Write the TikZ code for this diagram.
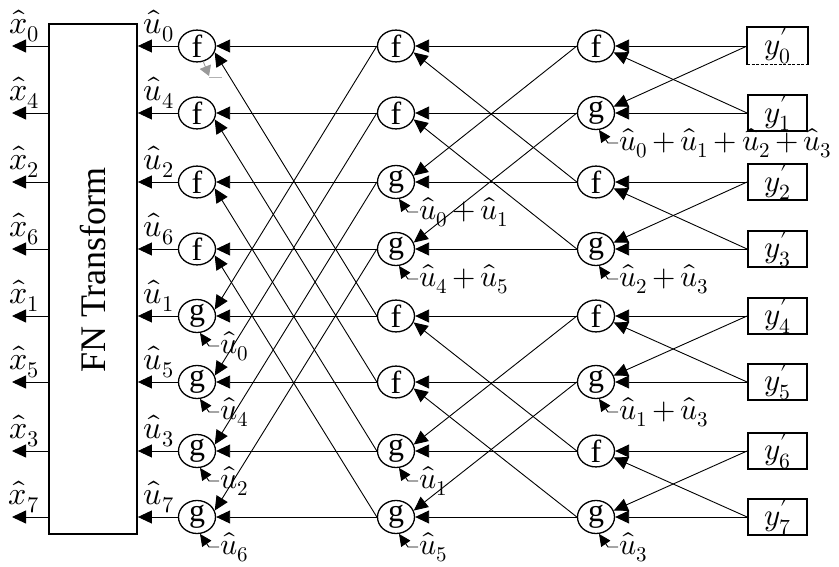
\documentclass[tikz,border=0pt]{standalone}
\usepackage{unicode-math}
\setmainfont{Liberation Serif}
\setmathfont{Latin Modern Math}
\usetikzlibrary{arrows.meta,shapes.geometric}

% feedback label below a g node, with its short hooked arrow
\newcommand\fbk[2]{%
  \node[fbl,anchor=west] (#1l) at ([shift={(22,30)}]#1.center) {$\medmuskip=3mu #2$};
  \draw[fb] (#1l.west) -- ++(-10,0) -- (#1.-80);
}
% received value y'_k with a lowered prime
\newcommand\yp[1]{$y^{\raisebox{-5pt}{$\scriptstyle\prime$}}_{#1}$}

\tikzset{
  fg/.style={ellipse, draw, line width=1.3pt, minimum width=37pt, minimum height=31pt,
             inner sep=0pt, font=\fontsize{32}{32}\selectfont},
  ybox/.style={rectangle, draw, line width=1.8pt, minimum width=59pt, minimum height=32pt,
             inner sep=0pt, font=\fontsize{31}{31}\selectfont},
  conn/.style={line width=0.9pt, -{Triangle[length=14pt,width=13pt]}},
  fb/.style={line width=0.9pt, -{Triangle[length=12pt,width=11pt]}},
  lab/.style={inner sep=0pt, font=\fontsize{32}{32}\selectfont},
  fbl/.style={inner sep=1pt, font=\fontsize{30}{30}\selectfont},
}

\begin{document}
\begin{tikzpicture}[x=1pt,y=-1pt]
\useasboundingbox (0,0) rectangle (839,567);

% FN transform block
\node[draw, line width=1.8pt, minimum width=88pt, minimum height=510pt, inner sep=0pt]
  (fn) at (93,279) {};
\node[rotate=90, inner sep=0pt, font=\fontsize{36}{36}\selectfont] (fnt) at (93,270) {FN Transform};

% nodes of the three stages and the received values
\foreach \i/\y/\a/\b/\c/\k in {0/46/f/f/f/0, 1/113/f/f/g/4, 2/182/f/g/f/2, 3/249/f/g/g/6,
                              4/316/g/f/f/1, 5/382/g/f/g/5, 6/451/g/g/f/3, 7/517/g/g/g/7} {
  \node[fg] (a\i) at (197,\y) {\a};
  \node[fg] (b\i) at (396,\y) {\b};
  \node[fg] (c\i) at (596,\y) {\c};
  \ifnum\i=0
    \node[ybox, draw=none] (y\i) at (777.5,\y) {\yp{\i}};
  \else
    \node[ybox] (y\i) at (777.5,\y) {\yp{\i}};
  \fi
  % straight wires
  \draw[conn] (y\i.west) -- (c\i.east);
  \draw[conn] (c\i.west) -- (b\i.east);
  \draw[conn] (b\i.west) -- (a\i.east);
  \draw[conn] (a\i.west) -- (a\i.west -| fn.east);
  \coordinate (xo\i) at (12,\y);
  \draw[conn] (xo\i -| fn.west) -- (xo\i);
  \node[lab] (ul\i) at (159,\y-20) {$\widehat{u}_{\k}$};
  \node[lab] (xl\i) at (24,\y-20) {$\widehat{x}_{\k}$};
}

% first box: dashed lower edge
\draw[line width=1.8pt] (y0.south west) -- (y0.north west) -- (y0.north east) -- (y0.south east);
\draw[line width=1pt, dash pattern=on 3pt off 1.5pt] (y0.south west) -- (y0.south east);

% crossing wires
\foreach \p/\q in {0/1,2/3,4/5,6/7} {
  \draw[conn] (y\q.west) -- (c\p.-20);
  \draw[conn] (y\p.west) -- (c\q.20);
}
\foreach \p/\q in {0/2,1/3,4/6,5/7} {
  \draw[conn] (c\q.west) -- (b\p.-20);
  \draw[conn] (c\p.west) -- (b\q.20);
}
\foreach \p/\q in {0/4,1/5,2/6,3/7} {
  \draw[conn] (b\q.west) -- (a\p.-20);
  \draw[conn] (b\p.west) -- (a\q.20);
}

% partial sums fed back into the g nodes
\fbk{a4}{\widehat{u}_0}
\fbk{a5}{\widehat{u}_4}
\fbk{a6}{\widehat{u}_2}
\fbk{a7}{\widehat{u}_6}
\fbk{b2}{\widehat{u}_0+\widehat{u}_1}
\fbk{b3}{\widehat{u}_4+\widehat{u}_5}
\fbk{b6}{\widehat{u}_1}
\fbk{b7}{\widehat{u}_5}
\fbk{c1}{\widehat{u}_0+\widehat{u}_1+\widehat{u}_2+\widehat{u}_3}
\fbk{c3}{\widehat{u}_2+\widehat{u}_3}
\fbk{c5}{\widehat{u}_1+\widehat{u}_3}
\fbk{c7}{\widehat{u}_3}

% grey stub under the first f node
\coordinate (gt) at (209,76);
\draw[gray!80, line width=0.9pt, -{Triangle[length=10pt,width=12pt]}] (a0.-68) -- (gt);
\draw[gray!60, line width=0.9pt] (gt) ++(0,1) -- ++(13,0);

\end{tikzpicture}
\end{document}
